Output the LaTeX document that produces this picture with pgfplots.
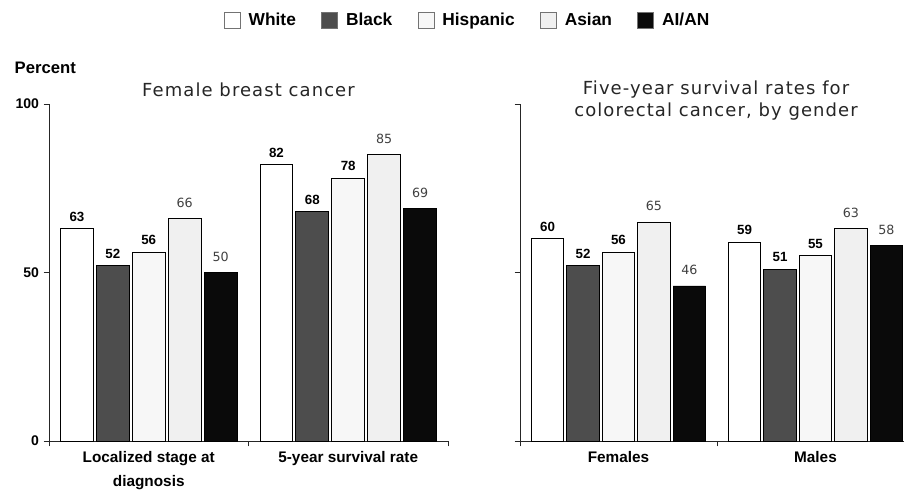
\documentclass[border=0pt]{standalone}
\usepackage{fontspec}
\setmainfont{Liberation Sans}
\newfontfamily\vfont{DejaVu Sans}
\newfontfamily\tfont[LetterSpace=6]{DejaVu Sans}
\usepackage{pgfplots}
\pgfplotsset{compat=1.18}

\definecolor{cWhite}{HTML}{FFFFFF}
\definecolor{cBlack}{HTML}{4D4D4D}
\definecolor{cHisp}{HTML}{F7F7F7}
\definecolor{cAsian}{HTML}{F0F0F0}
\definecolor{cAIAN}{HTML}{0A0A0A}

\pgfplotsset{
  panel/.style={
    scale only axis, height=252.75pt,
    ymin=0, ymax=100, ytick={0,50,100},
    axis x line=bottom, axis y line=left,
    axis line style={-, black!85, line width=0.6pt},
    tick style={black!85, line width=0.6pt},
    tick align=outside, major tick length=4pt,
    ybar, bar width=0.165,
    xtick={0,1,2}, xticklabels={},
    extra x ticks={0.5,1.5},
    extra x tick style={tick style={draw=none}},
    xticklabel style={align=center, font=\fontsize{11.5}{18.5}\selectfont\bfseries},
    yticklabel style={font=\fontsize{10.5}{12}\selectfont\bfseries},
    /pgf/number format/assume math mode=true,
    clip=false, enlarge x limits=false,
    every axis plot/.append style={draw=black, line width=0.6pt},
  },
  boldlab/.style={nodes near coords,
    nodes near coords style={font=\fontsize{10}{12}\selectfont\bfseries, yshift=2pt}},
  lightlab/.style={nodes near coords,
    nodes near coords style={font=\vfont\fontsize{9.5}{12}\selectfont, text=black!75, yshift=4.5pt}},
}

\begin{document}
\begin{tikzpicture}
\useasboundingbox (-36.75pt,-37.5pt) rectangle (641.25pt,330.75pt);
% breast cancer panel
\begin{axis}[panel, name=L, at={(0,0)}, anchor=south west,
  width=299.25pt, xmin=0, xmax=2,
  extra x tick labels={{Localized stage at\\diagnosis},{5-year survival rate}},
  legend columns=5,
  legend style={at={(1.05,1.249)}, anchor=center, draw=none,
    font=\fontsize{13}{15}\selectfont\bfseries,
    /tikz/every odd column/.append style={column sep=4pt},
    /tikz/every even column/.append style={column sep=17pt}},
  legend image code/.code={\draw[#1, draw=black!55, line width=0.6pt] (0pt,-6pt) rectangle (12pt,6pt);},
]
\addplot[fill=cWhite, bar shift=-0.36, boldlab] coordinates {(0.5,63) (1.5,82)};
\addplot[fill=cBlack, bar shift=-0.18, boldlab] coordinates {(0.5,52) (1.5,68)};
\addplot[fill=cHisp, bar shift=0, boldlab] coordinates {(0.5,56) (1.5,78)};
\addplot[fill=cAsian, bar shift=0.18, lightlab] coordinates {(0.5,66) (1.5,85)};
\addplot[fill=cAIAN, bar shift=0.36, lightlab] coordinates {(0.5,50) (1.5,69)};
\legend{White, Black, Hispanic, Asian, AI/AN}
\end{axis}

% colorectal panel
\begin{axis}[panel, name=R, at={(353.25pt,0)}, anchor=south west,
  width=288.1pt, xmin=0, xmax=1.95,
  yticklabels={},
  extra x tick labels={Females, Males},
]
\addplot[fill=cWhite, bar shift=-0.36, boldlab] coordinates {(0.5,60) (1.5,59)};
\addplot[fill=cBlack, bar shift=-0.18, boldlab] coordinates {(0.5,52) (1.5,51)};
\addplot[fill=cHisp, bar shift=0, boldlab] coordinates {(0.5,56) (1.5,55)};
\addplot[fill=cAsian, bar shift=0.18, lightlab] coordinates {(0.5,65) (1.5,63)};
\addplot[fill=cAIAN, bar shift=0.36, lightlab] coordinates {(0.5,46) (1.5,58)};
\end{axis}

\node[anchor=west, xshift=-29.25pt, yshift=27pt, font=\fontsize{12.5}{14}\selectfont\bfseries] at (L.north west) {Percent};
\node[yshift=10.5pt, font=\tfont\fontsize{13.5}{16.5}\selectfont, text=black!85] at (L.north) {Female breast cancer};
\node[xshift=147pt, yshift=2.25pt, align=center, font=\tfont\fontsize{13.5}{16.5}\selectfont, text=black!85] at (R.north west) {Five-year survival rates for\\colorectal cancer, by gender};
\end{tikzpicture}
\end{document}
